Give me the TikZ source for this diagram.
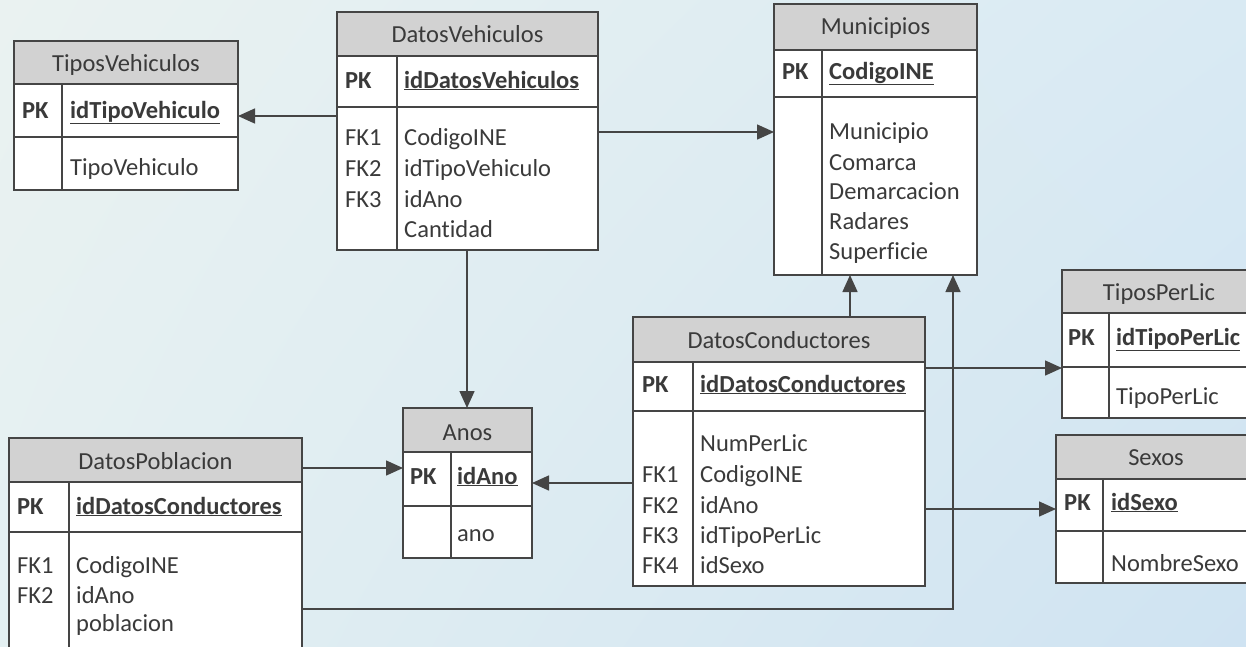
\documentclass[tikz,border=0pt]{standalone}
\usepackage{fontspec}
\setmainfont{Carlito}[Ligatures=CommonOff]
\usetikzlibrary{arrows.meta,shadings}
\definecolor{linec}{HTML}{454545}
\definecolor{hdrc}{HTML}{D2D2D2}
\definecolor{txtc}{HTML}{3A3A3A}
\definecolor{bgA}{HTML}{EAF2F1}
\definecolor{bgB}{HTML}{D9EAF3}
\definecolor{bgC}{HTML}{E4F0F2}
\definecolor{bgD}{HTML}{CFE3F2}
\newcommand\erfs{\fontsize{24.5}{29}\selectfont}
\tikzset{
  tblbox/.style={fill=white, inner sep=0pt, outer sep=0pt, anchor=north west},
  hdrfill/.style={fill=hdrc},
  rule/.style={draw=linec, line width=1.6pt},
  frame/.style={draw=linec, line width=1.6pt},
  txt/.style={anchor=base west, inner sep=0pt, text=txtc, font=\erfs},
  ttl/.style={anchor=base, inner sep=0pt, text=txtc, font=\erfs},
  conn/.style={draw=linec, line width=1.5pt},
  arr/.style={conn, -{Triangle[length=17pt,width=15pt]}}
}
% name, left, top, right, header bottom, pk bottom, bottom, divider
\newcommand\ertab[8]{%
  \node[tblbox, minimum width={(#4-#2)*1pt}, minimum height={(#7-#3)*1pt}] (#1) at (#2,#3) {};
  \fill[hdrfill] (#1.north west) rectangle (#4,#5);
  \draw[rule] (#2,#5) -- (#4,#5) (#2,#6) -- (#4,#6) (#8,#5) -- (#8,#7);
  \draw[frame] (#1.north west) rectangle (#1.south east);
}
\newcommand\lbl[4]{\node[txt] (#1) at (#2,#3) {#4};}
\newcommand\ttlnode[4]{\node[ttl] (#1) at (#2,#3) {#4};}
\newcommand\pkf[1]{\textbf{\underline{#1}}}
\begin{document}
\begin{tikzpicture}[x=1pt,y=-1pt]
\useasboundingbox (0,0) rectangle (1246,646);
\clip (0,0) rectangle (1246,646);
\shade[upper left=bgA, upper right=bgB, lower left=bgC, lower right=bgD] (0,0) rectangle (1246,646);

% TiposVehiculos
\ertab{tv}{14}{41}{238}{84}{137}{190}{62}
\ttlnode{tvT}{126}{71}{TiposVehiculos}
\lbl{tvPK}{22}{118}{\textbf{PK}}
\lbl{tvK}{70}{118}{\pkf{idTipoVehiculo}}
\lbl{tvA}{70}{175}{TipoVehiculo}

% DatosVehiculos
\ertab{dv}{337}{12}{598}{56}{107}{250}{397}
\ttlnode{dvT}{467.5}{42}{DatosVehiculos}
\lbl{dvPK}{345}{88}{\textbf{PK}}
\lbl{dvK}{404}{88}{\pkf{idDatosVehiculos}}
\lbl{dvF1}{345}{145}{FK1}
\lbl{dvF2}{345}{176}{FK2}
\lbl{dvF3}{345}{207}{FK3}
\lbl{dvA1}{404}{145}{CodigoINE}
\lbl{dvA2}{404}{176}{idTipoVehiculo}
\lbl{dvA3}{404}{207}{idAno}
\lbl{dvA4}{404}{237}{Cantidad}

% Municipios
\ertab{mun}{774}{4}{977}{50}{97}{275}{822}
\ttlnode{munT}{875.5}{34}{Municipios}
\lbl{munPK}{782}{79}{\textbf{PK}}
\lbl{munK}{829}{79}{\pkf{CodigoINE}}
\lbl{munA1}{829}{139}{Municipio}
\lbl{munA2}{829}{170}{Comarca}
\lbl{munA3}{829}{199}{Demarcacion}
\lbl{munA4}{829}{229}{Radares}
\lbl{munA5}{829}{259}{Superficie}

% DatosConductores
\ertab{dc}{633}{317}{925}{362}{411}{586}{693}
\ttlnode{dcT}{779}{348}{DatosConductores}
\lbl{dcPK}{642}{392}{\textbf{PK}}
\lbl{dcK}{700}{392}{\pkf{idDatosConductores}}
\lbl{dcA0}{700}{451}{NumPerLic}
\lbl{dcF1}{642}{482}{FK1}
\lbl{dcF2}{642}{513}{FK2}
\lbl{dcF3}{642}{543}{FK3}
\lbl{dcF4}{642}{573}{FK4}
\lbl{dcA1}{700}{482}{CodigoINE}
\lbl{dcA2}{700}{513}{idAno}
\lbl{dcA3}{700}{543}{idTipoPerLic}
\lbl{dcA4}{700}{573}{idSexo}

% TiposPerLic
\ertab{tpl}{1062}{270}{1256}{313}{367}{418}{1109}
\ttlnode{tplT}{1159}{300}{TiposPerLic}
\lbl{tplPK}{1068}{345}{\textbf{PK}}
\lbl{tplK}{1116}{345}{\pkf{idTipoPerLic}}
\lbl{tplA}{1116}{404}{TipoPerLic}

% Sexos
\ertab{sex}{1056}{435}{1256}{479}{531}{583}{1103}
\ttlnode{sexT}{1156}{465}{Sexos}
\lbl{sexPK}{1064}{510}{\textbf{PK}}
\lbl{sexK}{1111}{510}{\pkf{idSexo}}
\lbl{sexA}{1111}{571}{NombreSexo}

% DatosPoblacion
\ertab{dp}{9}{438}{302}{482}{532}{660}{69}
\ttlnode{dpT}{155.5}{469}{DatosPoblacion}
\lbl{dpPK}{17}{514}{\textbf{PK}}
\lbl{dpK}{76}{514}{\pkf{idDatosConductores}}
\lbl{dpF1}{17}{573}{FK1}
\lbl{dpF2}{17}{603}{FK2}
\lbl{dpA1}{76}{573}{CodigoINE}
\lbl{dpA2}{76}{603}{idAno}
\lbl{dpA3}{76}{631}{poblacion}

% Anos
\ertab{anos}{403}{408}{532}{452}{506}{558}{451}
\ttlnode{anosT}{467.5}{440}{Anos}
\lbl{anosPK}{410}{484}{\textbf{PK}}
\lbl{anosK}{457}{484}{\pkf{idAno}}
\lbl{anosA}{457}{541}{ano}

% connectors
\draw[arr] (dv.west |- 0,116) -- (tv.east |- 0,116);
\draw[arr] (dv.east |- 0,132) -- (mun.west |- 0,132);
\draw[arr] (dv.south -| 467,0) -- (anos.north -| 467,0);
\draw[arr] (dp.east |- 0,468) -- (anos.west |- 0,468);
\draw[arr] (dp.east |- 0,609) -| (mun.south -| 953,0);
\draw[arr] (dc.west |- 0,483) -- (anos.east |- 0,483);
\draw[arr] (dc.north -| 850,0) -- (mun.south -| 850,0);
\draw[arr] (dc.east |- 0,368) -- (tpl.west |- 0,368);
\draw[arr] (dc.east |- 0,509) -- (sex.west |- 0,509);
\end{tikzpicture}
\end{document}
